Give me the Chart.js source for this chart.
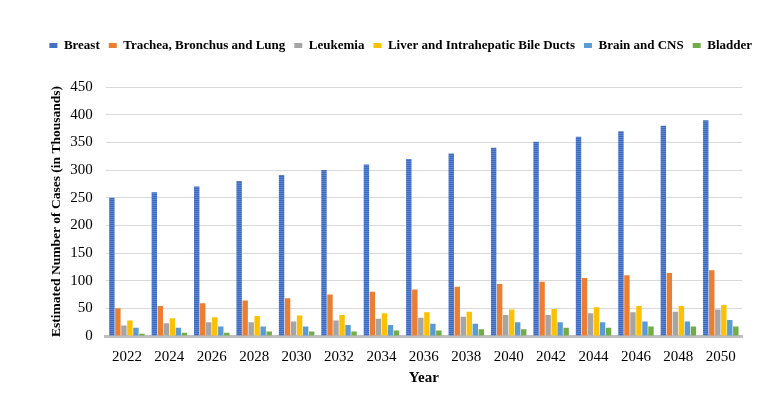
<!DOCTYPE html>
<html>
<head>
<meta charset="utf-8">
<script src="https://cdn.jsdelivr.net/npm/chart.js@4"></script>
<style>
  html, body { margin: 0; padding: 0; background: #fff; }
  #wrap { width: 761px; height: 393px; position: relative; }
</style>
</head>
<body>
<div id="wrap"><canvas id="cancerChart"></canvas></div>
<script>
// Năm dự báo và số ca ước tính (nghìn ca)
const YEARS = ['2022', '2024', '2026', '2028', '2030', '2032', '2034', '2036', '2038', '2040', '2042', '2044', '2046', '2048', '2050'];
const BREAST   = [250, 260, 270, 280, 291, 300, 310, 320, 330, 340, 351, 360, 370, 380, 390];
const TRACHEA  = [50, 54, 59, 64, 68, 75, 80, 84, 89, 94, 98, 105, 110, 114, 119];
const LEUKEMIA = [19, 23, 25, 25, 26, 28, 31, 33, 35, 38, 38, 41, 43, 44, 48];
const LIVER    = [28, 32, 34, 36, 37, 38, 41, 43, 44, 48, 49, 52, 54, 54, 56];
const BRAIN    = [15, 15, 17, 17, 17, 20, 20, 22, 22, 25, 25, 25, 26, 26, 29];
const BLADDER  = [4, 6, 6, 8, 8, 8, 10, 10, 12, 12, 15, 15, 17, 17, 17];

const SERIES = [
  { label: 'Breast', data: BREAST, color: '#4472C4' },
  { label: 'Trachea, Bronchus and Lung', data: TRACHEA, color: '#ED7D31' },
  { label: 'Leukemia', data: LEUKEMIA, color: '#A5A5A5' },
  { label: 'Liver and Intrahepatic Bile Ducts', data: LIVER, color: '#FFC000' },
  { label: 'Brain and CNS', data: BRAIN, color: '#5B9BD5' },
  { label: 'Bladder', data: BLADDER, color: '#70AD47' },
];

const SERIF = "'Liberation Serif', 'Times New Roman', serif";

/** Sọc ngang cho cột Breast (giống ảnh gốc) */
function stripes(c1, c2) {
  const cv = document.createElement('canvas');
  cv.width = 4; cv.height = 2;
  const g = cv.getContext('2d');
  g.fillStyle = c1; g.fillRect(0, 0, 4, 1);
  g.fillStyle = c2; g.fillRect(0, 1, 4, 1);
  return g.createPattern(cv, 'repeat');
}

// Khoảng trống giữa legend và vùng vẽ
const legendGap = {
  id: 'legendGap',
  beforeInit(chart) {
    const fit = chart.legend.fit;
    chart.legend.fit = function () { fit.bind(chart.legend)(); this.height += 25; };
  },
};

new Chart(document.getElementById('cancerChart'), {
  type: 'bar',
  data: {
    labels: YEARS,
    datasets: SERIES.map((s, i) => ({
      label: s.label, data: s.data,
      backgroundColor: i === 0 ? stripes('#3E68BC', '#5A86D8') : s.color,
      borderWidth: 0, categoryPercentage: 0.85, barPercentage: 0.9,
    })),
  },
  options: {
    responsive: true, maintainAspectRatio: false, animation: false,
    layout: { padding: { left: 33, right: 0, top: 30, bottom: 0 } },
    plugins: {
      legend: {
        position: 'top', align: 'end',
        labels: {
          font: { family: SERIF, size: 13, weight: 'bold' }, color: '#000',
          boxWidth: 8, boxHeight: 5, padding: 9,
          generateLabels: chart => SERIES.map((s, i) => ({
            text: s.label, fillStyle: s.color, strokeStyle: s.color, lineWidth: 0,
            hidden: false, datasetIndex: i, fontColor: '#000',
          })),
        },
      },
      tooltip: { enabled: false },
    },
    scales: {
      x: {
        grid: { display: false, drawTicks: false },
        border: { color: '#BFBFBF', width: 3 },
        ticks: { font: { family: SERIF, size: 15 }, color: '#000', padding: 12 },
        title: { display: true, text: 'Year', font: { family: SERIF, size: 15, weight: 'bold' }, color: '#000', padding: { top: -9, bottom: 6 } },
      },
      y: {
        min: 0, max: 450,
        ticks: { stepSize: 50, font: { family: SERIF, size: 15 }, color: '#000', padding: 13 },
        grid: { color: '#D9D9D9', drawTicks: false },
        border: { display: false },
        title: { display: true, text: 'Estimated Number of Cases (in Thousands)', font: { family: SERIF, size: 13.5, weight: 'bold' }, color: '#000', padding: { top: 15, bottom: -7 } },
      },
      y2: {
        position: 'right', display: true,
        grid: { display: false, drawTicks: false }, border: { display: false },
        ticks: { display: false },
        afterFit: axis => { axis.width = 19; },
      },
    },
  },
  plugins: [legendGap],
});
</script>
</body>
</html>
